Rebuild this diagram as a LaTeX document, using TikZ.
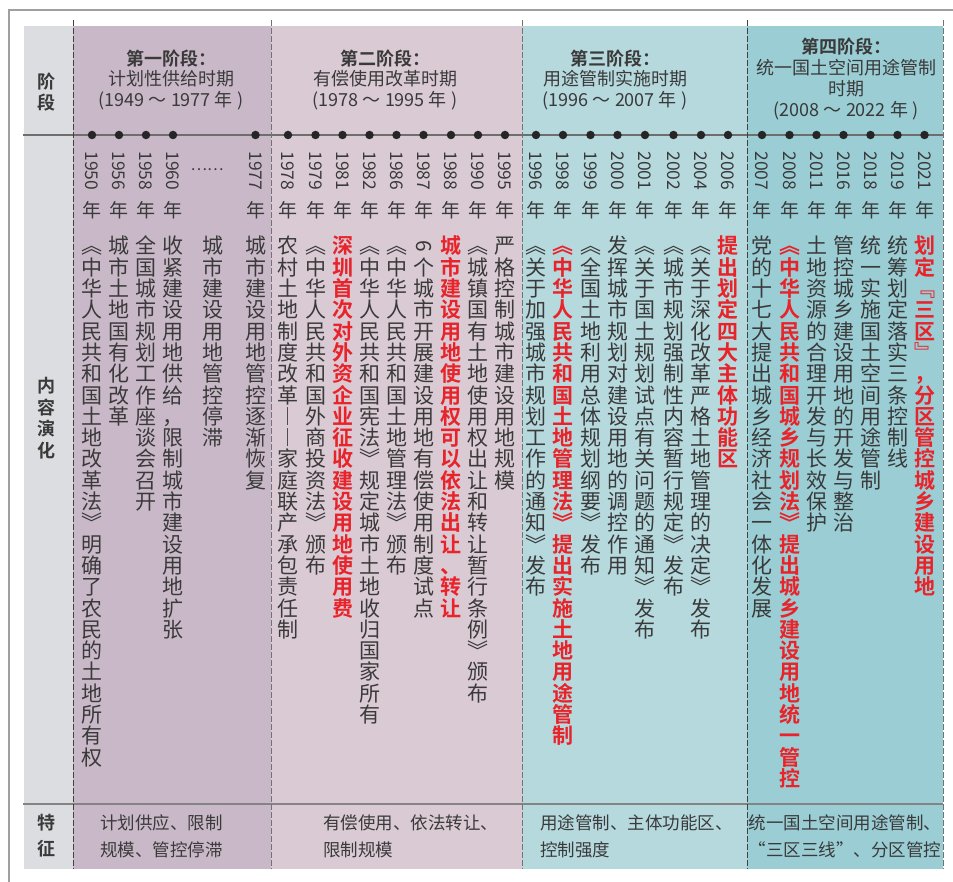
\documentclass[tikz,border=0pt]{standalone}
\usepackage{fontspec}
\setmainfont{Noto Sans CJK SC}[BoldFont={Noto Sans CJK SC Bold}]
\usepackage{graphicx}

\definecolor{txt}{HTML}{3A3A3A}
\definecolor{hl}{HTML}{E8232A}
\definecolor{gcol}{HTML}{DCDDE0}
\definecolor{sa}{HTML}{C9B9C8}
\definecolor{sb}{HTML}{DACAD4}
\definecolor{sc}{HTML}{B6D9DE}
\definecolor{sd}{HTML}{9ACDD4}
\definecolor{rulec}{HTML}{6E6E6E}
\definecolor{framec}{HTML}{A0A0A0}

\ExplSyntaxOn
\NewDocumentCommand\vcol{m}{
  \vtop{\baselineskip=21.3pt \lineskiplimit=-100pt \lineskip=0pt
    \tl_map_inline:nn {#1}{\hbox to 22pt{\hss##1\hss}}}
}
\ExplSyntaxOff
\newcommand\rotsix{\rotatebox[origin=c]{-90}{6}}

\tikzset{
  body/.style={inner sep=0pt, anchor=base, text=txt, font=\fontsize{21}{21.3}\selectfont},
  bodyred/.style={body, text=hl, font=\fontsize{21}{21.3}\selectfont\bfseries},
  yr/.style={inner sep=0pt, rotate=-90, text=txt, font=\fontsize{17.5}{17.5}\selectfont},
  nian/.style={inner sep=0pt, text=txt, font=\fontsize{19}{19}\selectfont},
  dot/.style={circle, fill=black!85, inner sep=0pt, minimum size=8.5pt},
  head/.style={align=center, text=txt, font=\fontsize{18}{20.5}\selectfont, inner sep=0pt},
  foot/.style={align=left, anchor=west, text=txt, font=\fontsize{17.5}{27}\selectfont, inner sep=0pt},
  side/.style={align=center, text=txt, font=\fontsize{18}{21.5}\selectfont\bfseries, inner sep=0pt},
  sepline/.style={dash pattern=on 6pt off 2pt, line width=1pt},
  rowline/.style={draw=rulec, line width=1.1pt},
}

\newcommand\evt[5]{%
  \node[dot] (d#1) at (#2,135) {};
  \node[yr] (y#1) at (#2,171) {#1};
  \node[nian] (n#1) at (#2,210) {年};
  \node[#4] (c#1) at (#2,254) {\vcol{#5}};
}

\begin{document}
\begin{tikzpicture}[x=1pt,y=-1pt]
\useasboundingbox (0,0) rectangle (953,882);
% outer frame (cropped)
\draw[framec, line width=1.5pt] (9,882) -- (9,10) -- (953,10);
% fills
\fill[gcol] (24,26) rectangle (73,869);
\fill[sa] (73,26) rectangle (271,869);
\fill[sb] (271,26) rectangle (522,869);
\fill[sc] (522,26) rectangle (747,869);
\fill[sd] (747,26) rectangle (943,869);
% horizontal rules
\coordinate (tlL) at (23,135);
\coordinate (tlR) at (943,135);
\coordinate (ftL) at (23,804);
\coordinate (ftR) at (943,804);
\draw[rowline] (tlL) -- (tlR);
\draw[rowline, draw=rulec!85] (ftL) -- (ftR);
% dashed separators
\draw[sepline, draw=black!75] (73,20) -- (73,869);
\draw[sepline, draw=black!55] (271,20) -- (271,869);
\draw[sepline, draw=black!55] (522,20) -- (522,869);
\draw[sepline, draw=black!75] (747,20) -- (747,869);
\draw[sepline, draw=black!55] (943,20) -- (943,869);

% left labels
\node[side] (lab1) at (46,92) {阶\\段};
\node[side] (lab2) at (46,418) {内\\容\\演\\化};
\node[side, font=\fontsize{18}{26}\selectfont\bfseries] (lab3) at (46,836) {特\\征};

% stage headers
\node[head] (h1) at (171,80) {{\bfseries 第一阶段：}\\计划性供给时期\\(1949 ～ 1977 年 )};
\node[head] (h2) at (385,80) {{\bfseries 第二阶段：}\\有偿使用改革时期\\(1978 ～ 1995 年 )};
\node[head] (h3) at (615,80) {{\bfseries 第三阶段：}\\用途管制实施时期\\(1996 ～ 2007 年 )};
\node[head, font=\fontsize{18}{21}\selectfont] (h4) at (846,79) {{\bfseries 第四阶段：}\\统一国土空间用途管制\\时期\\(2008 ～ 2022 年 )};

% stage 1
\evt{1950}{92}{}{body}{︽中华人民共和国土地改革法︾明确了农民的土地所有权}
\evt{1956}{119}{}{body}{城市土地国有化改革}
\evt{1958}{146}{}{body}{全国城市规划工作座谈会召开}
\evt{1960}{173}{}{body}{收紧建设用地供给，限制城市建设用地扩张}
\node[inner sep=0pt, text=txt, font=\fontsize{15.5}{15.5}\selectfont] (ell) at (207,170) {……};
\node[body] (cell) at (213,254) {\vcol{城市建设用地管控停滞}};
\evt{1977}{255.5}{}{body}{城市建设用地管控逐渐恢复}

% stage 2
\evt{1978}{288}{}{body}{农村土地制度改革︱︱家庭联产承包责任制}
\evt{1979}{315.5}{}{body}{︽中华人民共和国外商投资法︾颁布}
\evt{1981}{342.5}{}{bodyred}{深圳首次对外资企业征收建设用地使用费}
\evt{1982}{369.5}{}{body}{︽中华人民共和国宪法︾规定城市土地收归国家所有}
\evt{1986}{396.5}{}{body}{︽中华人民共和国土地管理法︾颁布}
\evt{1987}{423.5}{}{body}{{\rotsix}个城市开展建设用地有偿使用制度试点}
\evt{1988}{451}{}{bodyred}{城市建设用地使用权可以依法出让、转让}
\evt{1990}{478}{}{body}{︽城镇国有土地使用权出让和转让暂行条例︾颁布}
\evt{1995}{505}{}{body}{严格控制城市建设用地规模}

% stage 3
\evt{1996}{536}{}{body}{︽关于加强城市规划工作的通知︾发布}
\evt{1998}{563}{}{bodyred}{︽中华人民共和国土地管理法︾提出实施土地用途管制}
\evt{1999}{590.5}{}{body}{︽全国土地利用总体规划纲要︾发布}
\evt{2000}{617.5}{}{body}{发挥城市规划对建设用地的调控作用}
\evt{2001}{645}{}{body}{︽关于国土规划试点有关问题的通知︾发布}
\evt{2002}{673.5}{}{body}{︽城市规划强制性内容暂行规定︾发布}
\evt{2004}{701}{}{body}{︽关于深化改革严格土地管理的决定︾发布}
\evt{2006}{728}{}{bodyred}{提出划定四大主体功能区}

% stage 4
\evt{2007}{762}{}{body}{党的十七大提出城乡经济社会一体化发展}
\evt{2008}{789.5}{}{bodyred}{︽中华人民共和国城乡规划法︾提出城乡建设用地统一管控}
\evt{2011}{816.5}{}{body}{土地资源的合理开发与长效保护}
\evt{2016}{843.5}{}{body}{管控城乡建设用地的开发与整治}
\evt{2018}{870.5}{}{body}{统一实施国土空间用途管制}
\evt{2019}{897.5}{}{body}{统筹划定落实三条控制线}
\evt{2021}{924.5}{}{bodyred}{划定﹃三区﹄，分区管控城乡建设用地}

% features row
\node[foot] (f1) at (100,836.5) {计划供应、限制\\规模、管控停滞};
\node[foot] (f2) at (323,836.5) {有偿使用、依法转让、\\限制规模};
\node[foot] (f3) at (540,836.5) {用途管制、主体功能区、\\控制强度};
\node[foot, anchor=center, align=center] (f4) at (845,836.5) {统一国土空间用途管制、\\“三区三线”、分区管控};
\end{tikzpicture}
\end{document}
